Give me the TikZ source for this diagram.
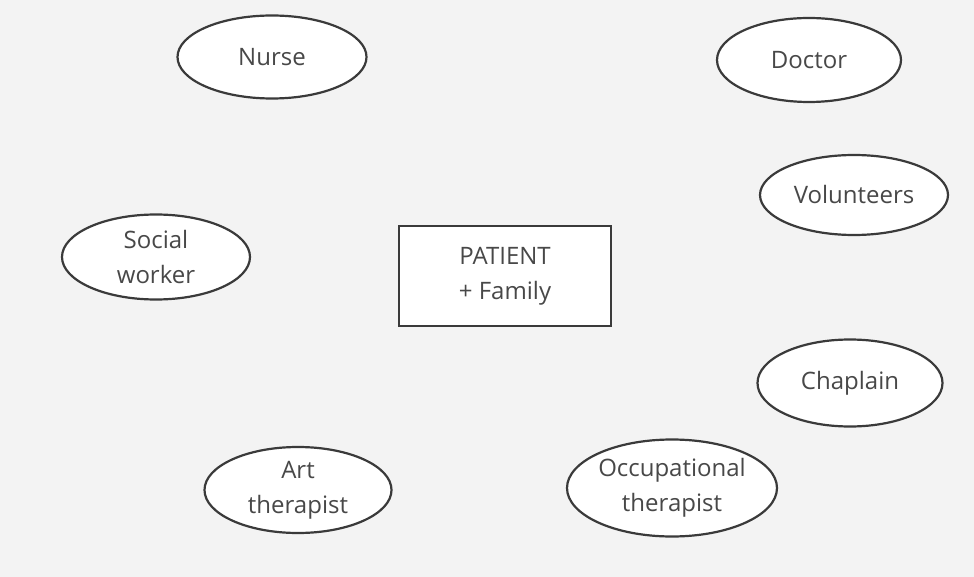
\documentclass[tikz,border=0pt]{standalone}
\usepackage{fontspec}
\setmainfont{Open Sans}
\usetikzlibrary{shapes.geometric}
\definecolor{bg}{HTML}{F3F3F3}
\definecolor{ink}{HTML}{3A3A3A}
\definecolor{txt}{HTML}{484848}
\tikzset{
  role/.style={ellipse, draw=ink, line width=2.2pt, fill=white, inner sep=0pt,
    font=\fontsize{24}{35}\selectfont, text=txt, align=center},
  centre/.style={rectangle, draw=ink, line width=2.4pt, fill=white, inner sep=0pt,
    font=\fontsize{24}{35}\selectfont, text=txt, align=center}
}
\begin{document}
\begin{tikzpicture}[x=1pt,y=-1pt]
\fill[bg] (0,0) rectangle (974,577);
\useasboundingbox (0,0) rectangle (974,577);
\node[role, minimum width=189pt, minimum height=83pt] (nurse) at (272,57) {Nurse};
\node[role, minimum width=184pt, minimum height=84pt] (doctor) at (809,60) {Doctor};
\node[role, minimum width=188pt, minimum height=80pt] (vol) at (854,195) {Volunteers};
\node[role, minimum width=188pt, minimum height=85pt] (social) at (156,257) {Social\\worker};
\node[centre, minimum width=212pt, minimum height=100pt] (patient) at (505,276) {PATIENT\\+ Family};
\node[role, minimum width=185pt, minimum height=87pt] (chap) at (850,383) {Chaplain};
\node[role, minimum width=187pt, minimum height=86pt] (art) at (298,490) {Art\\therapist};
\node[role, minimum width=210pt, minimum height=97pt] (occ) at (672,488) {Occupational\\therapist};
\end{tikzpicture}
\end{document}
